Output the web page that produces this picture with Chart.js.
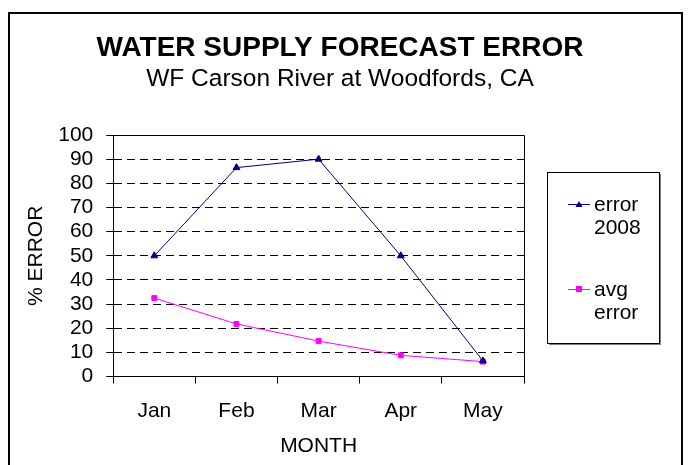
<!DOCTYPE html>
<html>
<head>
<meta charset="utf-8">
<script src="https://cdn.jsdelivr.net/npm/chart.js@4.4.1/dist/chart.umd.min.js"></script>
<style>
  html, body { margin: 0; padding: 0; background: #fff; }
  #wrap { width: 689px; height: 465px; }
</style>
</head>
<body>
<div id="wrap"><canvas id="grafico" width="689" height="465"></canvas></div>
<script>
// dados do grafico
const meses = ['Jan', 'Feb', 'Mar', 'Apr', 'May']
const erro2008 = [50, 86.5, 90, 50, 6.5]
const erroMedio = [32.5, 21.8, 14.7, 8.8, 6.2]
const nomesSeries = [['error', '2008'], ['avg', 'error']]
const ticksY = [0, 10, 20, 30, 40, 50, 60, 70, 80, 90, 100]
const titulo = 'WATER SUPPLY FORECAST ERROR'
const subtitulo = 'WF Carson River at Woodfords, CA'

const fonte = 'Arial, "Liberation Sans", sans-serif'

// titulos, moldura externa, borda da area do grafico e legenda
const molduras = {
  id: 'molduras',
  afterDraw(chart) {
    const ctx = chart.ctx
    const a = chart.chartArea
    ctx.save()

    ctx.fillStyle = '#000'
    ctx.textAlign = 'center'
    ctx.textBaseline = 'alphabetic'
    ctx.font = 'bold 28px ' + fonte
    ctx.fillText(titulo, 340, 56)
    ctx.font = '24.5px ' + fonte
    ctx.fillText(subtitulo, 340, 86)

    ctx.strokeStyle = '#000'
    ctx.lineWidth = 2
    ctx.strokeRect(9, 13, 673, 470)
    ctx.lineWidth = 1
    ctx.beginPath()
    ctx.moveTo(a.left, a.top + 0.5)
    ctx.lineTo(a.right + 0.5, a.top + 0.5)
    ctx.lineTo(a.right + 0.5, a.bottom)
    ctx.stroke()

    // legenda
    const lx = 547, ly = 172, lw = 112, lh = 171
    ctx.fillStyle = '#808080'
    ctx.fillRect(lx + 2, ly + 2, lw, lh)
    ctx.fillStyle = '#fff'
    ctx.fillRect(lx, ly, lw, lh)
    ctx.strokeStyle = '#000'
    ctx.strokeRect(lx + 0.5, ly + 0.5, lw, lh)

    const linhasY = [204, 289]
    chart.data.datasets.forEach((ds, i) => {
      const y = linhasY[i]
      ctx.strokeStyle = ds.borderColor
      ctx.lineWidth = 1
      ctx.beginPath()
      ctx.moveTo(568, y + 0.5)
      ctx.lineTo(590, y + 0.5)
      ctx.stroke()
      ctx.fillStyle = ds.backgroundColor
      if (ds.pointStyle === 'triangle') {
        ctx.beginPath()
        ctx.moveTo(579, y - 3)
        ctx.lineTo(582.5, y + 3)
        ctx.lineTo(575.5, y + 3)
        ctx.closePath()
        ctx.fill()
      } else {
        ctx.fillRect(576, y - 3, 6, 6)
      }
      ctx.fillStyle = '#000'
      ctx.font = '21px ' + fonte
      ctx.textBaseline = 'middle'
      ctx.textAlign = 'left'
      nomesSeries[i].forEach((t, k) => ctx.fillText(t, 594, y + 1 + k * 23))
    })
    ctx.restore()
  }
}

new Chart(document.getElementById('grafico'), {
  type: 'line',
  data: {
    labels: meses,
    datasets: [
      {
        label: 'error 2008',
        data: erro2008,
        borderColor: '#000080',
        backgroundColor: '#000080',
        borderWidth: 1,
        pointStyle: 'triangle',
        pointRadius: 4,
        tension: 0
      },
      {
        label: 'avg error',
        data: erroMedio,
        borderColor: '#FF00FF',
        backgroundColor: '#FF00FF',
        borderWidth: 1,
        pointStyle: 'rect',
        pointRadius: 3.5,
        tension: 0
      }
    ]
  },
  options: {
    responsive: false,
    animation: false,
    layout: { padding: { left: 24, right: 165, top: 135, bottom: 6 } },
    plugins: {
      legend: { display: false },
      tooltip: { enabled: false }
    },
    scales: {
      x: {
        offset: true,
        grid: {
          offset: true,
          drawOnChartArea: false,
          tickLength: 7,
          tickColor: '#000'
        },
        border: { color: '#000', width: 1 },
        ticks: { color: '#000', font: { family: fonte, size: 21 }, padding: 15, autoSkip: false, maxRotation: 0 },
        title: {
          display: true,
          text: 'MONTH',
          color: '#000',
          font: { family: fonte, size: 21 },
          padding: { top: -5, bottom: 0 }
        }
      },
      y: {
        min: 0,
        max: 100,
        afterBuildTicks(scale) {
          scale.ticks = ticksY.map(v => ({ value: v }))
        },
        grid: {
          color: ctx => (ctx.tick && (ctx.tick.value === 0 || ctx.tick.value === 100)) ? 'rgba(0,0,0,0)' : '#000',
          tickColor: '#000',
          tickLength: 7
        },
        border: { color: '#000', width: 1, dash: [8, 5] },
        ticks: { color: '#000', font: { family: fonte, size: 21 }, padding: 13, autoSkip: false },
        title: {
          display: true,
          text: '% ERROR',
          color: '#000',
          font: { family: fonte, size: 21 },
          padding: { top: 0, bottom: -4 }
        }
      }
    }
  },
  plugins: [molduras]
})
</script>
</body>
</html>
